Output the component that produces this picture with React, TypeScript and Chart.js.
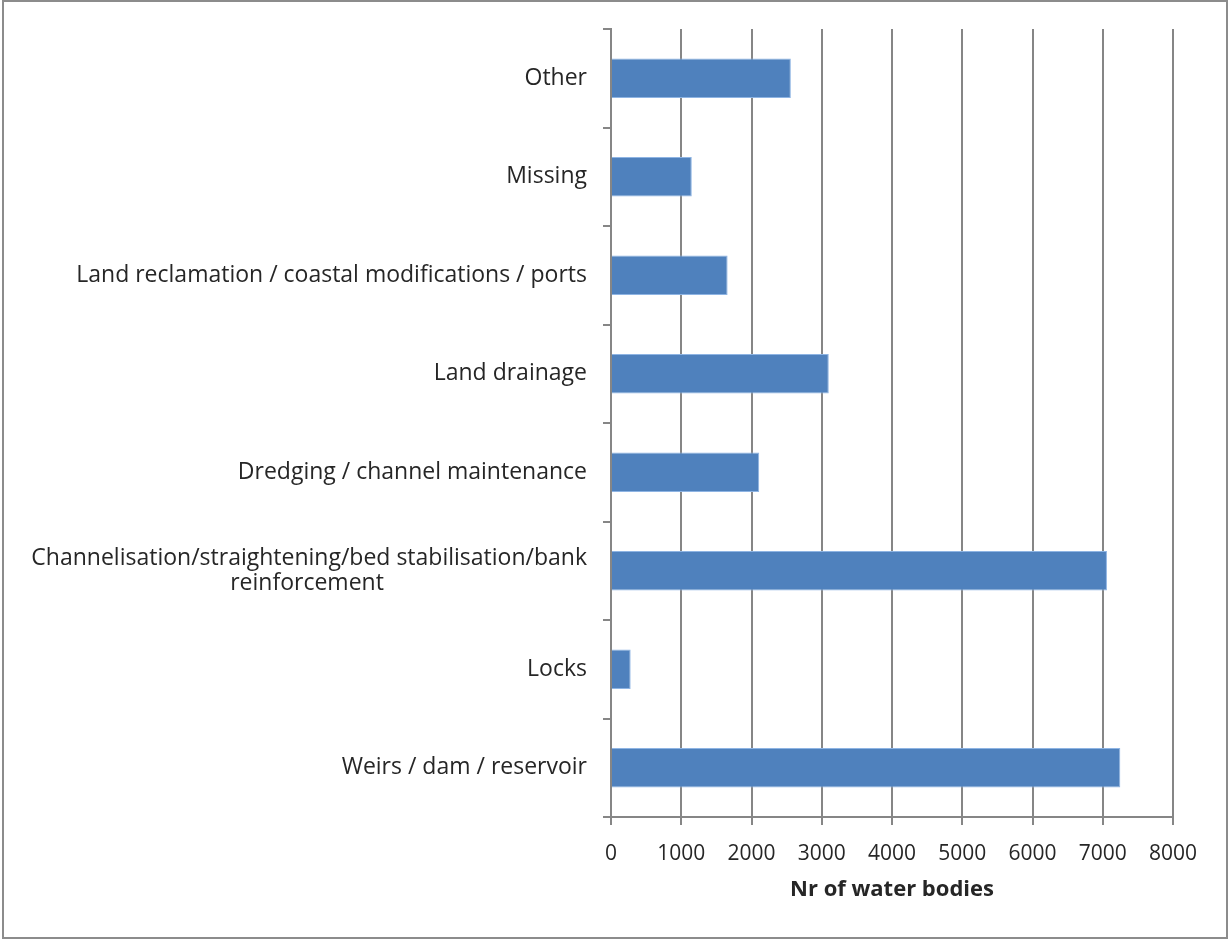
import React, { useEffect, useRef } from "react";
import { Chart, registerables } from "chart.js";

Chart.register(...registerables);

const categories: (string | string[])[] = [
  "Other",
  "Missing",
  "Land reclamation / coastal modifications / ports",
  "Land drainage",
  "Dredging / channel maintenance",
  ["Channelisation/straightening/bed stabilisation/bank", "reinforcement"],
  "Locks",
  "Weirs / dam / reservoir",
];
const waterBodies = [2560, 1150, 1660, 3100, 2110, 7060, 280, 7250];
const xTicks = [0, 1000, 2000, 3000, 4000, 5000, 6000, 7000, 8000];
const xTitle = "Nr of water bodies";

const FONT = "'Open Sans', 'DejaVu Sans', sans-serif";
const GRID = "#868686";
const Y_FONT_SIZE = 23;

export default function App() {
  const ref = useRef<HTMLCanvasElement | null>(null);
  useEffect(() => {
    document.body.style.margin = "0";
    const measure = document.createElement("canvas").getContext("2d")!;
    measure.font = `${Y_FONT_SIZE}px ${FONT}`;
    // centre wrapped label lines under the longest line (as in the original)
    const centreLines = (lab: string | string[]) => {
      if (!Array.isArray(lab)) return lab;
      const widths = lab.map((l) => measure.measureText(l).width);
      const maxW = Math.max(...widths);
      const sp = measure.measureText("\u00A0").width || 6;
      return lab.map((l, i) => l + "\u00A0".repeat(Math.round((maxW - widths[i]) / 2 / sp)));
    };
    const frame = {
      id: "frame",
      afterDraw(chart: any) {
        const c = chart.ctx;
        c.save();
        c.strokeStyle = "#8c8c8c";
        c.lineWidth = 2;
        c.strokeRect(3, 1, chart.width - 5, chart.height - 3);
        c.restore();
      },
    };
    const chart = new Chart(ref.current!, {
      type: "bar",
      data: {
        labels: categories as any,
        datasets: [
          {
            data: waterBodies,
            backgroundColor: "#4F81BD",
            borderColor: "#8EB4E3",
            borderWidth: 1,
            categoryPercentage: 0.4,
            barPercentage: 1,
          },
        ],
      },
      options: {
        indexAxis: "y",
        animation: false,
        responsive: false,
        layout: { padding: { left: 0, right: 56, top: 29, bottom: 33 } },
        plugins: { legend: { display: false }, tooltip: { enabled: false } },
        scales: {
          x: {
            min: 0,
            max: 8000,
            afterBuildTicks: (s: any) => {
              s.ticks = xTicks.map((v) => ({ value: v }));
            },
            afterFit: (s: any) => {
              s.height = 90;
            },
            grid: { color: GRID, lineWidth: 2, tickLength: 8 },
            border: { color: GRID, width: 2 },
            ticks: {
              color: "#262626",
              font: { family: FONT, size: 21 },
              padding: 16,
              callback: (v: any) => String(v),
            },
            title: {
              display: true,
              text: xTitle,
              color: "#262626",
              font: { family: FONT, size: 22, weight: "bold" },
            },
          },
          y: {
            afterFit: (s: any) => {
              s.width = 611;
            },
            grid: { drawOnChartArea: false, color: GRID, lineWidth: 2, tickLength: 8, offset: true },
            border: { color: GRID, width: 2 },
            ticks: {
              color: "#262626",
              font: { family: FONT, size: Y_FONT_SIZE, lineHeight: 1.08 },
              padding: 16,
              callback: (_v: any, i: number) => centreLines(categories[i]),
            },
          },
        },
      },
      plugins: [frame],
    } as any);
    return () => chart.destroy();
  }, []);
  return (
    <div style={{ position: "absolute", left: 0, top: 0, width: 1229, height: 940, background: "#fff" }}>
      <canvas ref={ref} width={1229} height={940} style={{ display: "block" }} />
    </div>
  );
}
